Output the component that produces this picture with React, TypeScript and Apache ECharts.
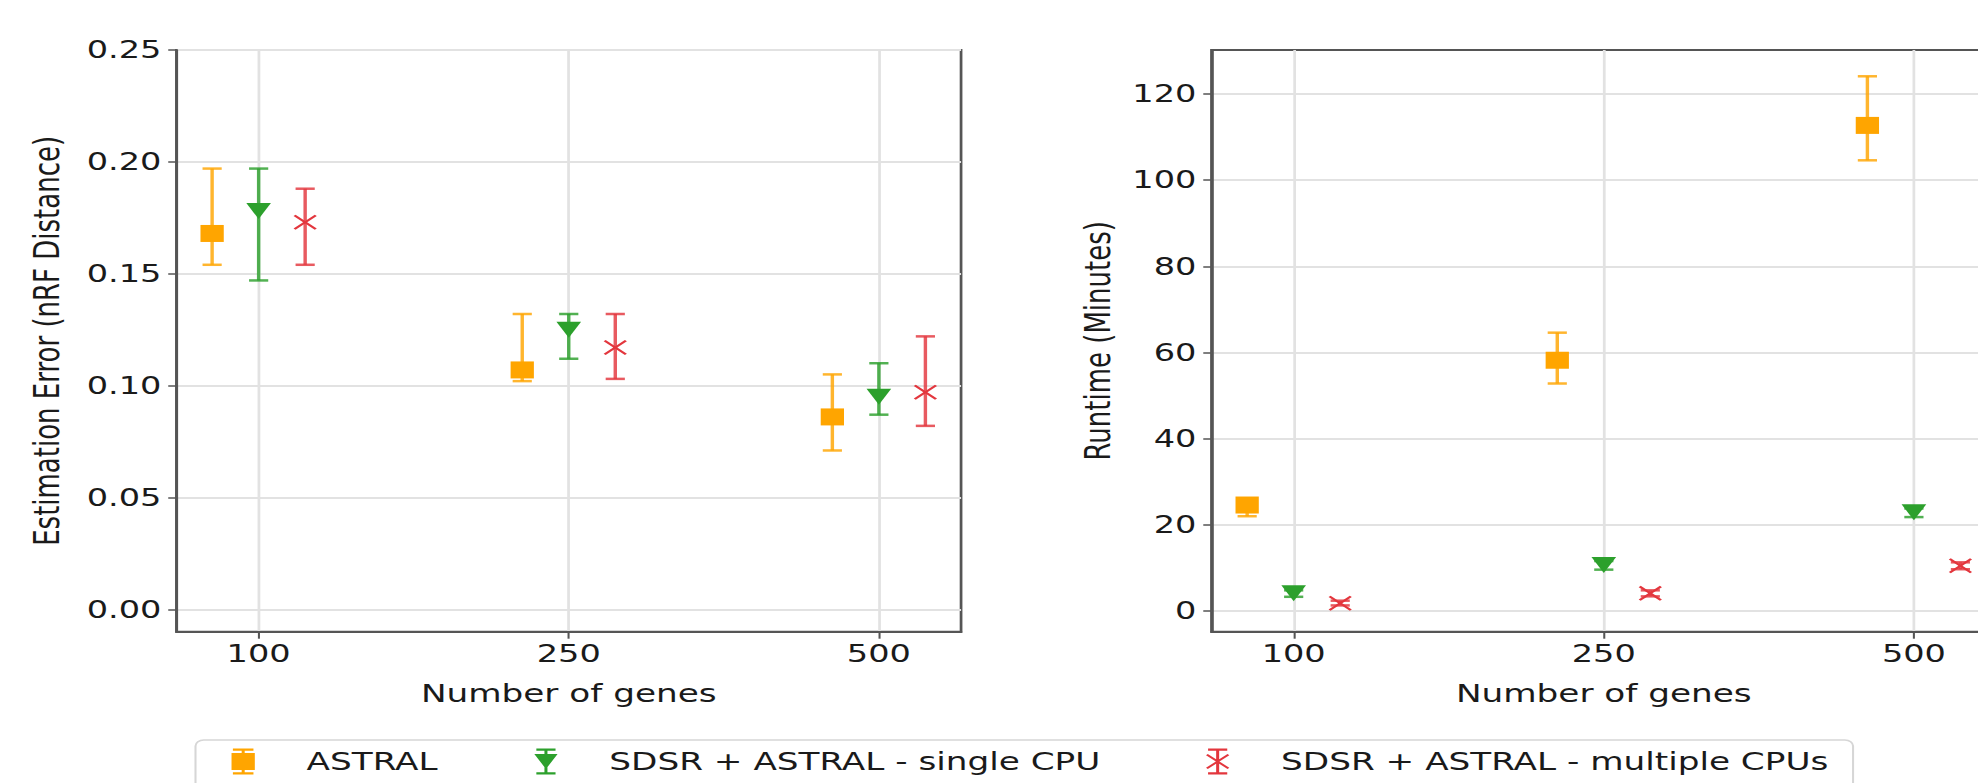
import React, { useEffect, useRef } from 'react';
import * as echarts from 'echarts';

// ---------- data ----------
const genes = ['100', '250', '500'];
const methods = ['ASTRAL', 'SDSR + ASTRAL - single CPU', 'SDSR + ASTRAL - multiple CPUs'];
const errorTicks = [0, 0.05, 0.1, 0.15, 0.2, 0.25];
const runtimeTicks = [0, 20, 40, 60, 80, 100, 120];

// Estimation error (nRF distance)
const astralError = [0.168, 0.107, 0.086];
const astralErrorLow = [0.154, 0.102, 0.071];
const astralErrorHigh = [0.197, 0.132, 0.105];
const singleError = [0.178, 0.125, 0.095];
const singleErrorLow = [0.147, 0.112, 0.087];
const singleErrorHigh = [0.197, 0.132, 0.11];
const multiError = [0.173, 0.117, 0.097];
const multiErrorLow = [0.154, 0.103, 0.082];
const multiErrorHigh = [0.188, 0.132, 0.122];

// Runtime (minutes)
const astralRuntime = [24.6, 58.2, 112.7];
const astralRuntimeLow = [22.0, 52.8, 104.6];
const astralRuntimeHigh = [25.8, 64.6, 124.1];
const singleRuntime = [4.1, 10.7, 22.9];
const singleRuntimeLow = [3.3, 9.6, 21.8];
const singleRuntimeHigh = [4.8, 11.6, 23.8];
const multiRuntime = [1.8, 4.1, 10.5];
const multiRuntimeLow = [1.3, 3.4, 9.7];
const multiRuntimeHigh = [2.4, 4.8, 11.3];

// ---------- styling ----------
const STRETCH = 1.37;
const W = 1978 / STRETCH;
const H = 783;
const FONT = 'DejaVu Sans';
const TEXT = '#1a1a1a';
const FRAME = '#555555';
const GRIDLINE = '#e2e2e2';
const colors = ['#ffa500', '#2ca02c', '#e3363d'];
const offsets = [-0.15, 0, 0.15];

function xPath(cx: number, cy: number, a: number, b: number, d: number) {
  const p = [
    [cx - a, cy - b + d], [cx - a + d, cy - b], [cx, cy - d], [cx + a - d, cy - b],
    [cx + a, cy - b + d], [cx + d, cy], [cx + a, cy + b - d], [cx + a - d, cy + b],
    [cx, cy + d], [cx - a + d, cy + b], [cx - a, cy + b - d], [cx - d, cy],
  ];
  return 'M' + p.map((q) => q[0] + ' ' + q[1]).join('L') + 'Z';
}
const barPath = (cw: number) =>
  `M7.9 0H10.1V26H7.9Z M${9 - cw} 0H${9 + cw}V2.2H${9 - cw}Z M${9 - cw} 23.8H${9 + cw}V26H${9 - cw}Z`;

const iconAstral = 'path://' + barPath(7.5) + ' M0.5 4.5H17.5V21.5H0.5Z';
const iconSingle = 'path://' + barPath(7) + ' M0.5 5.5H17.5L9 20.5Z';
const iconMulti = 'path://' + barPath(7) + ' ' + xPath(9, 13, 8.5, 7.5, 1.3);
const xSymbol = 'path://' + xPath(8, 8, 8, 8, 1.4);

function errorBars(name: string, color: string, gi: number, k: number, mid: number[], lo: number[], hi: number[]) {
  return {
    type: 'custom',
    name,
    xAxisIndex: gi,
    yAxisIndex: gi,
    z: 1,
    silent: true,
    encode: { x: 0, y: [1, 2] },
    data: mid.map((_, i) => [i + offsets[k], lo[i], hi[i]]),
    renderItem: (_params: any, api: any) => {
      const x = api.value(0);
      const p1 = api.coord([x, api.value(1)]);
      const p2 = api.coord([x, api.value(2)]);
      const cw = 7;
      const style = { stroke: color, lineWidth: 2.5, opacity: 0.82 };
      return {
        type: 'group',
        children: [
          { type: 'line', shape: { x1: p1[0], y1: p1[1], x2: p2[0], y2: p2[1] }, style },
          { type: 'line', shape: { x1: p1[0] - cw, y1: p1[1], x2: p1[0] + cw, y2: p1[1] }, style },
          { type: 'line', shape: { x1: p2[0] - cw, y1: p2[1], x2: p2[0] + cw, y2: p2[1] }, style },
        ],
      };
    },
  };
}

function markers(name: string, color: string, gi: number, k: number, mid: number[]) {
  const sym: any =
    k === 0
      ? { symbol: 'rect', symbolSize: [17, 17] }
      : k === 1
      ? { symbol: 'triangle', symbolSize: [18, 16], symbolRotate: 180 }
      : { symbol: xSymbol, symbolSize: [17, 15] };
  return {
    type: 'scatter',
    name,
    xAxisIndex: gi,
    yAxisIndex: gi,
    z: 3,
    ...sym,
    itemStyle: { color, opacity: 1 },
    data: mid.map((v, i) => [i + offsets[k], v]),
  };
}

function xAxis(gi: number) {
  return {
    type: 'value',
    gridIndex: gi,
    min: -0.265,
    max: 2.265,
    name: 'Number of genes',
    nameLocation: 'middle',
    nameGap: 49,
    nameTextStyle: { fontFamily: FONT, fontSize: 25, color: TEXT },
    axisLine: { show: true, onZero: false, lineStyle: { color: FRAME, width: 2 } },
    axisTick: { show: true, customValues: [0, 1, 2], length: 7, lineStyle: { color: FRAME, width: 1.5 } },
    axisLabel: {
      customValues: [0, 1, 2],
      formatter: (v: number) => genes[Math.round(v)],
      margin: 9,
      fontFamily: FONT,
      fontSize: 24.5,
      color: TEXT,
    },
    splitLine: { show: true, lineStyle: { color: GRIDLINE, width: 2 } },
  };
}

function yAxis(gi: number, name: string, min: number, max: number, ticks: number[], digits: number, gap: number) {
  return {
    type: 'value',
    gridIndex: gi,
    min,
    max,
    name,
    nameLocation: 'middle',
    nameGap: gap,
    nameTextStyle: { fontFamily: FONT, fontSize: 26, color: TEXT },
    axisLine: { show: true, onZero: false, lineStyle: { color: FRAME, width: 2 } },
    axisTick: { show: true, customValues: ticks, length: 6, lineStyle: { color: FRAME, width: 1.5 } },
    axisLabel: {
      customValues: ticks,
      formatter: (v: number) => v.toFixed(digits),
      margin: 11,
      fontFamily: FONT,
      fontSize: 24.5,
      color: TEXT,
    },
    splitLine: { show: true, lineStyle: { color: GRIDLINE, width: 2 } },
  };
}

function legend(k: number, left: number, icon: string) {
  return {
    data: [{ name: methods[k], icon }],
    left,
    top: 748.5,
    padding: 0,
    itemWidth: 18,
    itemHeight: 26,
    selectedMode: false,
    textStyle: { fontFamily: FONT, fontSize: 25, color: TEXT, padding: [0, 0, 0, 32.3] },
  };
}

export default function App() {
  const ref = useRef<HTMLDivElement>(null);
  useEffect(() => {
    if (!ref.current) return;
    const chart = echarts.init(ref.current, null, { renderer: 'svg' });
    const gridBase = {
      top: 50,
      height: 581.7,
      width: 572.7,
      show: true,
      borderColor: FRAME,
      borderWidth: 2,
      containLabel: false,
      outerBoundsMode: 'none',
    };
    const option: any = {
      animation: false,
      backgroundColor: '#ffffff',
      grid: [
        { ...gridBase, left: 128.8 },
        { ...gridBase, left: 884.3 },
      ],
      xAxis: [xAxis(0), xAxis(1)],
      yAxis: [
        yAxis(0, 'Estimation Error (nRF Distance)', -0.01, 0.25, errorTicks, 2, 82),
        yAxis(1, 'Runtime (Minutes)', -4.8, 130.2, runtimeTicks, 0, 70),
      ],
      legend: [legend(0, 169, iconAstral), legend(1, 390, iconSingle), legend(2, 880.3, iconMulti)],
      graphic: [
        {
          type: 'rect',
          z: 1,
          shape: { x: 142.7, y: 740, width: 1209.9, height: 90, r: 6 },
          style: { fill: '#ffffff', stroke: '#d6d6d6', lineWidth: 1.5 },
        },
      ],
      series: [
        errorBars('eb-a-err', colors[0], 0, 0, astralError, astralErrorLow, astralErrorHigh),
        errorBars('eb-s-err', colors[1], 0, 1, singleError, singleErrorLow, singleErrorHigh),
        errorBars('eb-m-err', colors[2], 0, 2, multiError, multiErrorLow, multiErrorHigh),
        markers(methods[0], colors[0], 0, 0, astralError),
        markers(methods[1], colors[1], 0, 1, singleError),
        markers(methods[2], colors[2], 0, 2, multiError),
        errorBars('eb-a-rt', colors[0], 1, 0, astralRuntime, astralRuntimeLow, astralRuntimeHigh),
        errorBars('eb-s-rt', colors[1], 1, 1, singleRuntime, singleRuntimeLow, singleRuntimeHigh),
        errorBars('eb-m-rt', colors[2], 1, 2, multiRuntime, multiRuntimeLow, multiRuntimeHigh),
        markers(methods[0], colors[0], 1, 0, astralRuntime),
        markers(methods[1], colors[1], 1, 1, singleRuntime),
        markers(methods[2], colors[2], 1, 2, multiRuntime),
      ],
    };
    chart.setOption(option);
    return () => chart.dispose();
  }, []);

  return (
    <div style={{ position: 'fixed', left: 0, top: 0, width: 1978, height: H, overflow: 'hidden', background: '#fff' }}>
      <div
        ref={ref}
        style={{ width: W, height: H, transform: `scaleX(${STRETCH})`, transformOrigin: '0 0' }}
      />
    </div>
  );
}
